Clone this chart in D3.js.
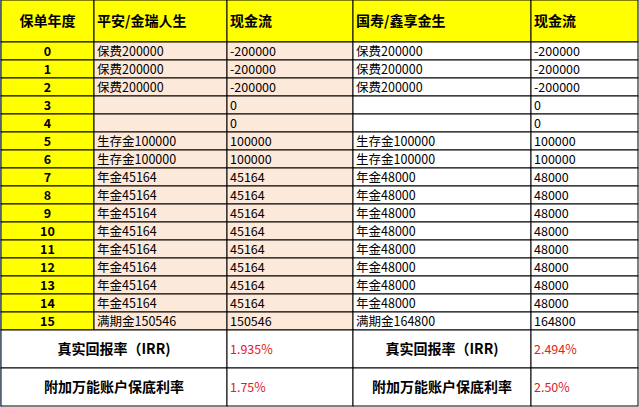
<!DOCTYPE html>
<html><head><meta charset="utf-8">
<script src="https://cdn.jsdelivr.net/npm/d3@7"></script>
<style>body{margin:0;background:#fff}text{font-family:"Noto Sans CJK SC","DejaVu Sans Mono",sans-serif}</style>
</head><body><svg></svg>
<script>
let headers = ["保单年度","平安/金瑞人生","现金流","国寿/鑫享金生","现金流"]
let years = [0,1,2,3,4,5,6,7,8,9,10,11,12,13,14,15]
let pinganItems = ["保费200000","保费200000","保费200000","","","生存金100000","生存金100000","年金45164","年金45164","年金45164","年金45164","年金45164","年金45164","年金45164","年金45164","满期金150546"]
let pinganCash = ["-200000","-200000","-200000","0","0","100000","100000","45164","45164","45164","45164","45164","45164","45164","45164","150546"]
let guoshouItems = ["保费200000","保费200000","保费200000","","","生存金100000","生存金100000","年金48000","年金48000","年金48000","年金48000","年金48000","年金48000","年金48000","年金48000","满期金164800"]
let guoshouCash = ["-200000","-200000","-200000","0","0","100000","100000","48000","48000","48000","48000","48000","48000","48000","48000","164800"]
let summaryLabels = ["真实回报率（IRR)","附加万能账户保底利率"]
let pinganRates = ["1.935%","1.75%"]
let guoshouRates = ["2.494%","2.50%"]

let width = 639, height = 407
let colEdges = [1, 94, 227, 353, 531, 638]
let svg = d3.select('svg').attr('width', width).attr('height', height)

// left excel frame strip
svg.append('rect').attr('x',0).attr('y',0).attr('width',2).attr('height',height).attr('fill','#a9c4e8')

let yScale = d3.scaleLinear().domain([0, 16]).range([42, 330])
let ySum = d3.scaleLinear().domain([0, 2]).range([330, 406])

let cell = (x0, x1, y0, y1, fill, txt, opts = {}) => {
    svg.append('rect').attr('x', x0).attr('y', y0).attr('width', x1 - x0).attr('height', y1 - y0)
       .attr('fill', fill).attr('stroke', '#000').attr('stroke-width', 1)
    if (txt === "") return
    let t = svg.append('text').attr('y', (y0 + y1) / 2).attr('dy', '0.36em')
       .attr('font-size', opts.size || 12.5).attr('fill', opts.color || '#000')
       .attr('font-weight', opts.bold ? 'bold' : 'normal').text(txt)
    if (opts.center) t.attr('x', (x0 + x1) / 2).attr('text-anchor', 'middle')
    else t.attr('x', x0 + 3)
}

// header
headers.forEach((h, i) => {
    cell(colEdges[i], colEdges[i + 1], 0, 42, '#ffff00', h, {bold: true, size: 14, center: i == 0})
})

// data rows
years.forEach((yr, i) => {
    let y0 = yScale(i), y1 = yScale(i + 1)
    cell(colEdges[0], colEdges[1], y0, y1, '#ffff00', yr, {bold: true, center: true, size: 12.5})
    cell(colEdges[1], colEdges[2], y0, y1, '#fde9d9', pinganItems[i])
    cell(colEdges[2], colEdges[3], y0, y1, '#fde9d9', pinganCash[i])
    cell(colEdges[3], colEdges[4], y0, y1, '#ffffff', guoshouItems[i])
    cell(colEdges[4], colEdges[5], y0, y1, '#ffffff', guoshouCash[i])
})

// summary rows
summaryLabels.forEach((lab, i) => {
    let y0 = ySum(i), y1 = ySum(i + 1)
    cell(colEdges[0], colEdges[2], y0, y1, '#ffffff', lab, {bold: true, center: true, size: 14})
    cell(colEdges[2], colEdges[3], y0, y1, '#ffffff', pinganRates[i], {color: '#e0201b'})
    cell(colEdges[3], colEdges[4], y0, y1, '#ffffff', lab, {bold: true, center: true, size: 14})
    cell(colEdges[4], colEdges[5], y0, y1, '#ffffff', guoshouRates[i], {color: '#e0201b'})
})
</script></body></html>
